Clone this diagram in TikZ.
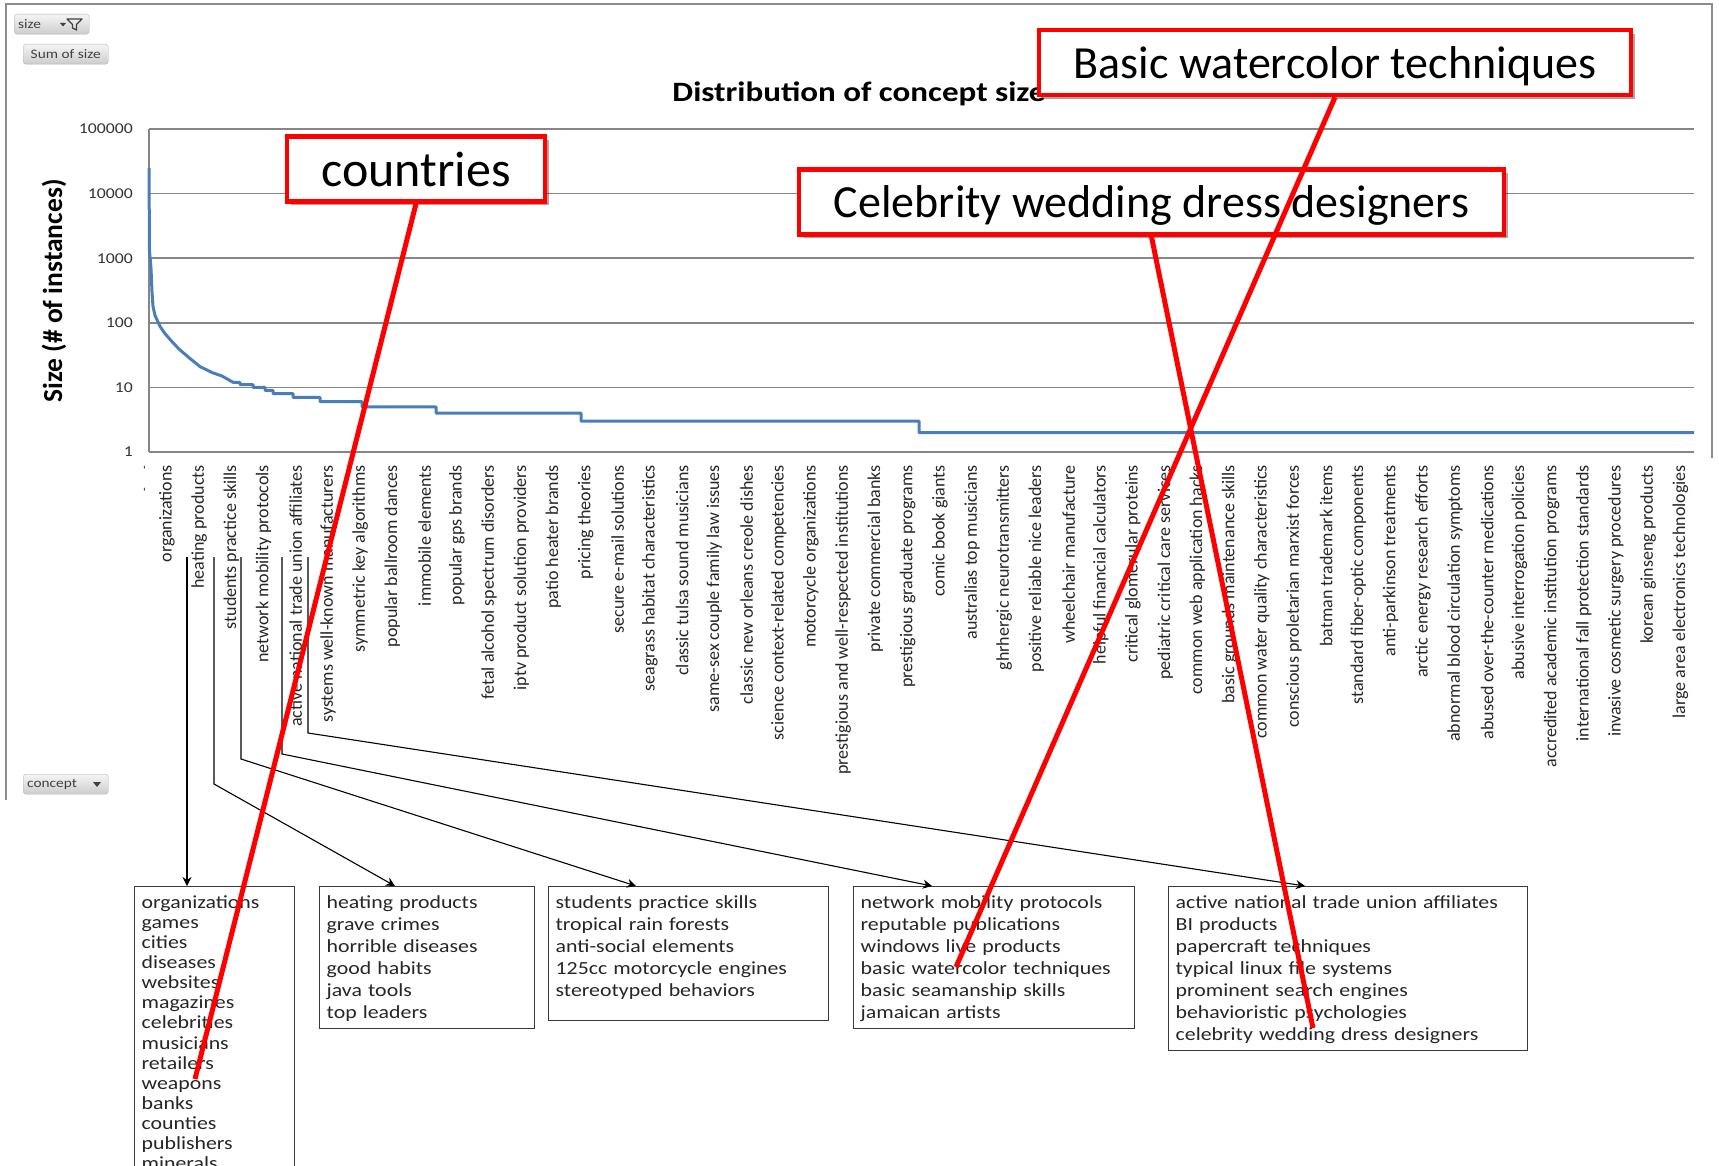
\documentclass[tikz,border=0pt]{standalone}
\usepackage{fontspec}
\setmainfont{Carlito}
\newfontfamily\wide{Carlito}[FakeStretch=1.18]
\usepackage{tikz}
\usetikzlibrary{arrows.meta, shadows}

\definecolor{gridgray}{HTML}{868686}
\definecolor{chartblue}{HTML}{4A7EBB}
\definecolor{calloutred}{HTML}{FF0000}
\definecolor{inkgray}{HTML}{3A3A3A}

% log scale of the chart: value -> pixel row
\newcommand{\ylog}[1]{452-64.6*log10(#1)}

\begin{document}
\begin{tikzpicture}[
  x=1pt, y=-1pt,
  every node/.style={inner sep=0pt},
  grid/.style    ={draw=gridgray, line width=1.6pt},
  curve/.style   ={draw=chartblue, line width=3pt, line join=round},
  ytick/.style   ={anchor=east, text=black!80, font=\wide\fontsize{15}{17}\selectfont},
  xlab/.style    ={rotate=90, anchor=east, text=black!85, font=\fontsize{18}{20}\selectfont},
  fieldbtn/.style={rounded corners=3pt, draw=black!30, top color=black!4, bottom color=black!20, anchor=north west, minimum height=20, inner xsep=4pt, align=left, text=black!75, font=\wide\fontsize{13}{15}\selectfont},
  listbox/.style ={draw=inkgray, line width=1.3pt, anchor=north west, align=left, inner xsep=7pt, inner ysep=7pt, text=black!85, font=\wide\fontsize{18.5}{22}\selectfont, execute at begin node=\rule{0pt}{14.7pt}},
  lead/.style    ={-{Stealth[length=9pt, width=9pt]}, draw=black, line width=1.1pt},
  callout/.style ={draw=calloutred, line width=4.5pt, fill=white, minimum height=65, text depth=0pt, drop shadow={shadow xshift=4pt, shadow yshift=-4pt, opacity=0.35, fill=black}, font=\fontsize{46}{50}\selectfont},
  callline/.style={draw=calloutred, line width=5pt}
]
\path[use as bounding box, fill=white] (0,0) rectangle (1719,1166);

% chart frame and pivot buttons
\draw[draw=black!45, line width=2pt] (6,800) -- (6,4) -- (1712,4) -- (1712,458);
\node[fieldbtn, text width=67] (sizebtn) at (14,14) {size};
\fill[black!75] (60,23) -- (66,23) -- (63,26.5) -- cycle;
\draw[black!75, line width=1.2pt, line join=round] (67,19) -- (82,19) -- (76.5,24.5) -- (76.5,30) -- (72.5,28) -- (72.5,24.5) -- cycle;
\node[fieldbtn, minimum width=85, align=center] (sumbtn) at (23,44) {Sum of size};
\node[fieldbtn, text width=77] (conceptbtn) at (23,774) {concept};
\fill[black!75] (93,782) -- (101,782) -- (97,787) -- cycle;

% titles
\node[font=\wide\bfseries\fontsize{28}{30}\selectfont] (title) at (859,94) {Distribution of concept size};
\node[rotate=90, font=\bfseries\fontsize{27.5}{30}\selectfont] (ytitle) at (54,291) {Size (\# of instances)};

% grid, y ticks
\foreach \e/\lab in {0/1, 1/10, 2/100, 3/1000, 4/10000, 5/100000} {
  \draw[grid] (149,{452-64.6*\e}) -- (1694,{452-64.6*\e});
  \node[ytick] (tick\e) at (133,{452-64.6*\e}) {\lab};
}
\draw[grid] (149,129) -- (149,452);

% concept sizes, ranked (largest is about 25000)
\draw[curve] (149,168) -- (149.5,{\ylog{1300}}) -- (151,{\ylog{700}}) -- (152,{\ylog{300}})
  -- (153,{\ylog{180}}) -- (155,{\ylog{130}}) -- (160,{\ylog{88}}) -- (165,{\ylog{68}})
  -- (173,{\ylog{49}}) -- (180,{\ylog{38}}) -- (190,{\ylog{28}}) -- (200,{\ylog{21}})
  -- (212,{\ylog{17}}) -- (222,{\ylog{15}}) -- (233,{\ylog{12}}) -- (240,{\ylog{12}})
  |- (253,{\ylog{11}}) |- (265,{\ylog{10}}) |- (273,{\ylog{9}}) |- (293,{\ylog{8}})
  |- (320,{\ylog{7}}) |- (362,{\ylog{6}}) |- (436,{\ylog{5}}) |- (581,{\ylog{4}})
  |- (919,{\ylog{3}}) |- (1694,{\ylog{2}});

% concept labels along the x axis
\node[xlab, font=\fontsize{12}{14}\selectfont] (c0) at (146,466) {-\hspace{18pt}-};
\foreach \lab [count=\i] in {organizations,
  heating products,
  students practice skills,
  network mobility protocols,
  active national trade union affiliates,
  systems well-known manufacturers,
  symmetric key algorithms,
  popular ballroom dances,
  immobile elements,
  popular gps brands,
  fetal alcohol spectrum disorders,
  iptv product solution providers,
  patio heater brands,
  pricing theories,
  secure e-mail solutions,
  seagrass habitat characteristics,
  classic tulsa sound musicians,
  same-sex couple family law issues,
  classic new orleans creole dishes,
  science context-related competencies,
  motorcycle organizations,
  prestigious and well-respected institutions,
  private commercial banks,
  prestigious graduate programs,
  comic book giants,
  australias top musicians,
  ghrhergic neurotransmitters,
  positive reliable nice leaders,
  wheelchair manufacture,
  helpful financial calculators,
  critical glomerular proteins,
  pediatric critical care services,
  common web application hacks,
  basic grounds maintenance skills,
  common water quality characteristics,
  conscious proletarian marxist forces,
  batman trademark items,
  standard fiber-optic components,
  anti-parkinson treatments,
  arctic energy research efforts,
  abnormal blood circulation symptoms,
  abused over-the-counter medications,
  abusive interrogation policies,
  accredited academic institution programs,
  international fall protection standards,
  invasive cosmetic surgery procedures,
  korean ginseng products,
  large area electronics technologies}
  \node[xlab] (c\i) at ({167+32.2*(\i-1)},465) {\lab};

% concept lists
\node[listbox, text width=146, font=\wide\fontsize{18.5}{20.1}\selectfont] (boxA) at (134,886)
  {organizations\\games\\cities\\diseases\\websites\\magazines\\celebrities\\musicians\\retailers\\weapons\\banks\\counties\\publishers\\minerals};
\node[listbox, text width=201, minimum height=142] (boxB) at (319,886)
  {heating products\\grave crimes\\horrible diseases\\good habits\\java tools\\top leaders};
\node[listbox, text width=266, minimum height=134] (boxC) at (548,886)
  {students practice skills\\tropical rain forests\\anti-social elements\\125cc motorcycle engines\\stereotyped behaviors\rule[-17.3pt]{0pt}{1pt}};
\node[listbox, text width=267, minimum height=142] (boxD) at (853,886)
  {network mobility protocols\\reputable publications\\windows live products\\basic watercolor techniques\\basic seamanship skills\\jamaican artists};
\node[listbox, text width=345, minimum height=164] (boxE) at (1168,886)
  {active national trade union affiliates\\BI products\\papercraft techniques\\typical linux file systems\\prominent search engines\\behavioristic psychologies\\celebrity wedding dress designers};

% leaders from the axis to the lists
\coordinate (lead1) at (187,557);
\coordinate (lead2) at (214,557);
\coordinate (lead3) at (241,557);
\coordinate (lead4) at (282,557);
\coordinate (lead5) at (308,557);
\draw[lead] (lead1) -- ([xshift=53pt]boxA.north west);
\draw[lead] (lead2) -- (214,784) -- ([xshift=76pt]boxB.north west);
\draw[lead] (lead3) -- (241,759) -- ([xshift=88pt]boxC.north west);
\draw[lead] (lead4) -- (282,754) -- ([xshift=79pt]boxD.north west);
\draw[lead] (lead5) -- (308,733) -- ([xshift=137pt]boxE.north west);

% red callouts
\node[callout, minimum width=258, font=\fontsize{50}{54}\selectfont] (countries) at (416,169) {countries};
\node[callout, minimum width=592] (watercolor) at (1335,62.5) {Basic watercolor techniques};
\node[callout, minimum width=705] (celebrity) at (1151.5,202) {Celebrity wedding dress designers};
\coordinate (hitA) at (195,1079);
\coordinate (hitB) at (956,967);
\coordinate (hitC) at (1313,1028);
\draw[callline] (countries.south) -- (hitA);
\draw[callline] (watercolor.south) -- (hitB);
\draw[callline] (celebrity.south) -- (hitC);
\end{tikzpicture}
\end{document}
